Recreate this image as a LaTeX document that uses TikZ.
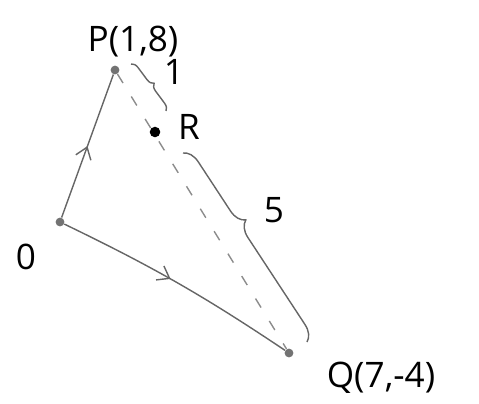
\documentclass[tikz,border=0pt]{standalone}
\usepackage{fontspec}
\setmainfont{Open Sans}
\usetikzlibrary{arrows.meta,decorations.markings,decorations.pathreplacing}
\tikzset{
  px/.style={x={(0.02cm,0cm)}, y={(0cm,-0.02cm)}},
  side/.style={black!60, thick},
  dline/.style={black!45, thick, dash pattern=on 6pt off 9pt},
  midarrow/.style={postaction={decorate, decoration={markings,
      mark=at position #1 with {\arrow{Straight Barb[length=2.2mm,width=3.2mm]}}}}},
  bracket/.style={black!60, thick, decorate, decoration={brace, amplitude=#1}},
  pt/.style={circle, fill=black!55, inner sep=0pt, minimum size=5pt},
  lab/.style={font=\fontsize{20}{24}\selectfont},
}

\begin{document}
\begin{tikzpicture}[px]
  \useasboundingbox (0,0) rectangle (479,403);
  % --- points ---
  \node[pt] (O) at (60,222) {};
  \node[pt] (P) at (115,70) {};
  \node[pt] (Q) at (289,353) {};
  \node[pt, fill=black, minimum size=6pt] (R) at (155,132) {};

  % --- sides OP, OQ and the dashed PQ ---
  \draw[side, midarrow=0.5] (O) -- (P);
  \draw[side, midarrow=0.47] (O) to[bend left=4] (Q);
  \draw[dline] (P) -- (Q);

  % --- braces for the ratio 1 : 5 ---
  \coordinate (b1s) at (131,64);
  \coordinate (b1e) at (166,111);
  \coordinate (b5s) at (183,153);
  \coordinate (b5e) at (307,342);
  \draw[bracket=4pt] (b1s) -- (b1e);
  \draw[bracket=9pt, decoration={aspect=0.4}] (b5s) -- (b5e);

  % --- labels ---
  \node[lab] (lP) at (133,42) {P(1,8)};
  \node[lab] (lO) at (26,257) {0};
  \node[lab] (lQ) at (381,378) {Q(7,-4)};
  \node[lab] (lR) at (189,127) {R};
  \node[lab] (l1) at (174,72) {1};
  \node[lab] (l5) at (274,210) {5};
\end{tikzpicture}
\end{document}
